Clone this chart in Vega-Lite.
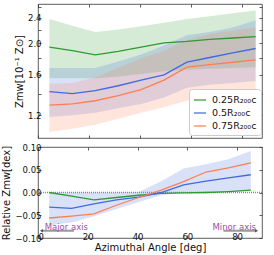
{
  "$schema": "https://vega.github.io/schema/vega-lite/v6.json",
  "padding": {"left": 1, "top": 3, "right": 7, "bottom": 1},
  "spacing": 3,
  "config": {
    "font": "DejaVu Sans",
    "view": {"stroke": "#333", "strokeWidth": 0.8},
    "axis": {"domain": false, "grid": false, "tickColor": "#333", "tickSize": -3, "tickWidth": 0.8, "labelPadding": 0, "labelFontSize": 8.5, "labelColor": "#111", "titleFontSize": 10, "titleFontWeight": "normal", "titleColor": "#111", "titlePadding": 3}
  },
  "datasets": {
    "top": [
      {"angle": 4.5, "series": "0.25R₂₀₀c", "z": 1.95, "lo": 1.56, "hi": 2.38},
      {"angle": 13.5, "series": "0.25R₂₀₀c", "z": 1.90, "lo": 1.56, "hi": 2.27},
      {"angle": 22.5, "series": "0.25R₂₀₀c", "z": 1.845, "lo": 1.56, "hi": 2.17},
      {"angle": 31.5, "series": "0.25R₂₀₀c", "z": 1.89, "lo": 1.58, "hi": 2.21},
      {"angle": 40.5, "series": "0.25R₂₀₀c", "z": 1.95, "lo": 1.61, "hi": 2.26},
      {"angle": 49.5, "series": "0.25R₂₀₀c", "z": 2.01, "lo": 1.64, "hi": 2.32},
      {"angle": 58.5, "series": "0.25R₂₀₀c", "z": 2.03, "lo": 1.66, "hi": 2.38},
      {"angle": 67.5, "series": "0.25R₂₀₀c", "z": 2.06, "lo": 1.67, "hi": 2.43},
      {"angle": 76.5, "series": "0.25R₂₀₀c", "z": 2.08, "lo": 1.68, "hi": 2.48},
      {"angle": 85.5, "series": "0.25R₂₀₀c", "z": 2.10, "lo": 1.69, "hi": 2.53},
      {"angle": 4.5, "series": "0.5R₂₀₀c", "z": 1.42, "lo": 1.185, "hi": 1.68},
      {"angle": 13.5, "series": "0.5R₂₀₀c", "z": 1.40, "lo": 1.20, "hi": 1.68},
      {"angle": 22.5, "series": "0.5R₂₀₀c", "z": 1.43, "lo": 1.22, "hi": 1.68},
      {"angle": 31.5, "series": "0.5R₂₀₀c", "z": 1.48, "lo": 1.26, "hi": 1.76},
      {"angle": 40.5, "series": "0.5R₂₀₀c", "z": 1.54, "lo": 1.30, "hi": 1.85},
      {"angle": 49.5, "series": "0.5R₂₀₀c", "z": 1.60, "lo": 1.36, "hi": 1.97},
      {"angle": 58.5, "series": "0.5R₂₀₀c", "z": 1.75, "lo": 1.46, "hi": 2.12},
      {"angle": 67.5, "series": "0.5R₂₀₀c", "z": 1.81, "lo": 1.49, "hi": 2.17},
      {"angle": 76.5, "series": "0.5R₂₀₀c", "z": 1.87, "lo": 1.51, "hi": 2.24},
      {"angle": 85.5, "series": "0.5R₂₀₀c", "z": 1.93, "lo": 1.53, "hi": 2.36},
      {"angle": 4.5, "series": "0.75R₂₀₀c", "z": 1.29, "lo": 1.064, "hi": 1.50},
      {"angle": 13.5, "series": "0.75R₂₀₀c", "z": 1.30, "lo": 1.09, "hi": 1.51},
      {"angle": 22.5, "series": "0.75R₂₀₀c", "z": 1.33, "lo": 1.12, "hi": 1.57},
      {"angle": 31.5, "series": "0.75R₂₀₀c", "z": 1.38, "lo": 1.17, "hi": 1.68},
      {"angle": 40.5, "series": "0.75R₂₀₀c", "z": 1.44, "lo": 1.22, "hi": 1.80},
      {"angle": 49.5, "series": "0.75R₂₀₀c", "z": 1.54, "lo": 1.27, "hi": 1.90},
      {"angle": 58.5, "series": "0.75R₂₀₀c", "z": 1.69, "lo": 1.33, "hi": 2.05},
      {"angle": 67.5, "series": "0.75R₂₀₀c", "z": 1.72, "lo": 1.34, "hi": 2.14},
      {"angle": 76.5, "series": "0.75R₂₀₀c", "z": 1.75, "lo": 1.35, "hi": 2.19},
      {"angle": 85.5, "series": "0.75R₂₀₀c", "z": 1.78, "lo": 1.36, "hi": 2.24}
    ],
    "rel": [
      {"angle": 4.5, "series": "0.25R₂₀₀c", "r": 0.0},
      {"angle": 13.5, "series": "0.25R₂₀₀c", "r": -0.008},
      {"angle": 22.5, "series": "0.25R₂₀₀c", "r": -0.016},
      {"angle": 31.5, "series": "0.25R₂₀₀c", "r": -0.011},
      {"angle": 40.5, "series": "0.25R₂₀₀c", "r": -0.006},
      {"angle": 49.5, "series": "0.25R₂₀₀c", "r": -0.002},
      {"angle": 58.5, "series": "0.25R₂₀₀c", "r": -0.001},
      {"angle": 67.5, "series": "0.25R₂₀₀c", "r": 0.0},
      {"angle": 76.5, "series": "0.25R₂₀₀c", "r": 0.002},
      {"angle": 85.5, "series": "0.25R₂₀₀c", "r": 0.005},
      {"angle": 4.5, "series": "0.5R₂₀₀c", "r": -0.032},
      {"angle": 13.5, "series": "0.5R₂₀₀c", "r": -0.035},
      {"angle": 22.5, "series": "0.5R₂₀₀c", "r": -0.025},
      {"angle": 31.5, "series": "0.5R₂₀₀c", "r": -0.016},
      {"angle": 40.5, "series": "0.5R₂₀₀c", "r": -0.010},
      {"angle": 49.5, "series": "0.5R₂₀₀c", "r": 0.0},
      {"angle": 58.5, "series": "0.5R₂₀₀c", "r": 0.017},
      {"angle": 67.5, "series": "0.5R₂₀₀c", "r": 0.025},
      {"angle": 76.5, "series": "0.5R₂₀₀c", "r": 0.032},
      {"angle": 85.5, "series": "0.5R₂₀₀c", "r": 0.039},
      {"angle": 4.5, "series": "0.75R₂₀₀c", "r": -0.056},
      {"angle": 13.5, "series": "0.75R₂₀₀c", "r": -0.052},
      {"angle": 22.5, "series": "0.75R₂₀₀c", "r": -0.047},
      {"angle": 31.5, "series": "0.75R₂₀₀c", "r": -0.028},
      {"angle": 40.5, "series": "0.75R₂₀₀c", "r": -0.011},
      {"angle": 49.5, "series": "0.75R₂₀₀c", "r": 0.005},
      {"angle": 58.5, "series": "0.75R₂₀₀c", "r": 0.024},
      {"angle": 67.5, "series": "0.75R₂₀₀c", "r": 0.045},
      {"angle": 76.5, "series": "0.75R₂₀₀c", "r": 0.054},
      {"angle": 85.5, "series": "0.75R₂₀₀c", "r": 0.065}
    ],
    "band": [
      {"angle": 4.5, "lo": -0.072, "hi": 0.0},
      {"angle": 13.5, "lo": -0.066, "hi": 0.0},
      {"angle": 22.5, "lo": -0.052, "hi": 0.0},
      {"angle": 31.5, "lo": -0.036, "hi": 0.0},
      {"angle": 40.5, "lo": -0.021, "hi": 0.001},
      {"angle": 49.5, "lo": -0.006, "hi": 0.025},
      {"angle": 58.5, "lo": 0.0, "hi": 0.053},
      {"angle": 67.5, "lo": 0.001, "hi": 0.062},
      {"angle": 76.5, "lo": 0.003, "hi": 0.073},
      {"angle": 85.5, "lo": 0.005, "hi": 0.091}
    ],
    "notes": [
      {"x": 2.7, "y": -0.0755, "text": "Major axis", "side": "left"},
      {"x": 87.6, "y": -0.0755, "text": "Minor axis", "side": "right"}
    ],
    "arrows": [
      {"x": 1.4, "x2": 14.5, "y": -0.084, "head": "triangle-left", "hx": 1.4},
      {"x": 74.5, "x2": 87.8, "y": -0.084, "head": "triangle-right", "hx": 87.8}
    ],
    "zero": [{"y": 0}]
  },
  "vconcat": [
    {
      "width": 224,
      "height": 134,
      "data": {"name": "top"},
      "encoding": {
        "color": {"field": "series", "type": "nominal", "scale": {"domain": ["0.25R₂₀₀c", "0.5R₂₀₀c", "0.75R₂₀₀c"], "range": ["#2e9b2e", "#4169e1", "#ff7f50"]},
          "legend": {"title": null, "orient": "none", "legendX": 151, "legendY": 85, "fillColor": "white", "strokeColor": "#cccccc", "cornerRadius": 3, "padding": 4, "rowPadding": 1, "labelFontSize": 9.5, "labelColor": "#111", "symbolType": "stroke", "symbolSize": 150, "symbolStrokeWidth": 1.5, "symbolOpacity": 0.8, "labelOffset": 5, "labelLimit": 200}}
      },
      "layer": [
        {
          "mark": {"type": "area", "opacity": 0.2},
          "encoding": {
            "x": {"field": "angle", "type": "quantitative", "scale": {"domain": [0, 88]}, "axis": {"orient": "bottom", "labels": false, "title": null, "values": [0, 20, 40, 60, 80]}},
            "y": {"field": "lo", "type": "quantitative", "scale": {"type": "log", "domain": [1.02, 2.65]}, "axis": {"orient": "left", "title": "Zmw[10⁻¹ Z⊙]", "values": [1.2, 1.4, 1.6, 1.8, 2.0, 2.2, 2.4, 2.6], "labelExpr": "(round(datum.value*10) % 4 == 0) ? format(datum.value, '.1f') : ''"}},
            "y2": {"field": "hi"}
          }
        },
        {
          "mark": {"type": "line", "strokeWidth": 1.3},
          "encoding": {
            "x": {"field": "angle", "type": "quantitative", "scale": {"domain": [0, 88]}, "axis": {"orient": "top", "labels": false, "title": null, "values": [0, 20, 40, 60, 80]}},
            "y": {"field": "z", "type": "quantitative", "scale": {"type": "log", "domain": [1.02, 2.65]}, "axis": {"orient": "right", "labels": false, "title": null, "values": [1.2, 1.4, 1.6, 1.8, 2.0, 2.2, 2.4, 2.6]}}
          }
        }
      ]
    },
    {
      "width": 224,
      "height": 91,
      "layer": [
        {
          "data": {"name": "band"},
          "mark": {"type": "area", "color": "#4169e1", "opacity": 0.2},
          "encoding": {
            "x": {"field": "angle", "type": "quantitative", "scale": {"domain": [0, 88]}, "axis": {"orient": "bottom", "title": "Azimuthal Angle [deg]", "values": [0, 20, 40, 60, 80], "labelPadding": -3, "titlePadding": 2}},
            "y": {"field": "lo", "type": "quantitative", "scale": {"domain": [-0.1, 0.1]}, "axis": {"orient": "left", "title": "Relative Zmw[dex]", "values": [-0.1, -0.05, 0, 0.05, 0.1], "format": ".2f"}},
            "y2": {"field": "hi"}
          }
        },
        {
          "data": {"name": "zero"},
          "mark": {"type": "rule", "color": "#888888", "strokeDash": [1, 1], "strokeWidth": 1.6},
          "encoding": {"y": {"field": "y", "type": "quantitative", "axis": null}}
        },
        {
          "data": {"name": "rel"},
          "mark": {"type": "line", "strokeWidth": 1.3},
          "encoding": {
            "x": {"field": "angle", "type": "quantitative", "axis": {"orient": "top", "labels": false, "title": null, "values": [0, 20, 40, 60, 80]}},
            "y": {"field": "r", "type": "quantitative", "axis": {"orient": "right", "labels": false, "title": null, "values": [-0.1, -0.05, 0, 0.05, 0.1]}},
            "color": {"field": "series", "type": "nominal"}
          }
        },
        {
          "data": {"name": "arrows"},
          "mark": {"type": "rule", "color": "#9a9a9a", "strokeWidth": 2},
          "encoding": {
            "x": {"field": "x", "type": "quantitative", "axis": null},
            "x2": {"field": "x2"},
            "y": {"field": "y", "type": "quantitative", "axis": null}
          }
        },
        {
          "data": {"name": "arrows"},
          "mark": {"type": "point", "filled": true, "color": "#555555", "size": 12, "opacity": 1},
          "encoding": {
            "x": {"field": "hx", "type": "quantitative", "axis": null},
            "y": {"field": "y", "type": "quantitative", "axis": null},
            "shape": {"field": "head", "type": "nominal", "scale": null}
          }
        },
        {
          "data": {"name": "notes"},
          "transform": [{"filter": "datum.side == 'left'"}],
          "mark": {"type": "text", "align": "left", "baseline": "middle", "fontSize": 8.5, "color": "#a64ca6"},
          "encoding": {
            "x": {"field": "x", "type": "quantitative", "axis": null},
            "y": {"field": "y", "type": "quantitative", "axis": null},
            "text": {"field": "text"}
          }
        },
        {
          "data": {"name": "notes"},
          "transform": [{"filter": "datum.side == 'right'"}],
          "mark": {"type": "text", "align": "right", "baseline": "middle", "fontSize": 8.5, "color": "#a64ca6"},
          "encoding": {
            "x": {"field": "x", "type": "quantitative", "axis": null},
            "y": {"field": "y", "type": "quantitative", "axis": null},
            "text": {"field": "text"}
          }
        }
      ]
    }
  ]
}
